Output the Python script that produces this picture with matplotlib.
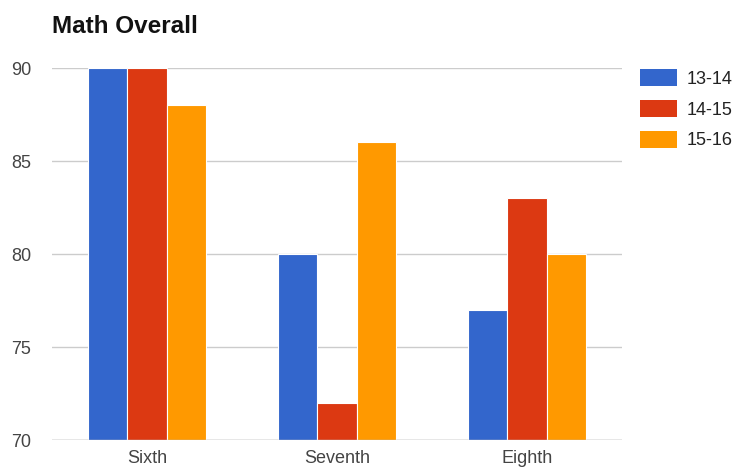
import matplotlib.pyplot as plt
import numpy as np
from matplotlib.patches import Patch

plt.rcParams['font.family'] = ['Liberation Sans', 'DejaVu Sans']

grades = ['Sixth', 'Seventh', 'Eighth']
years = ['13-14', '14-15', '15-16']
scores_1314 = [90, 80, 77]
scores_1415 = [90, 72, 83]
scores_1516 = [88, 86, 80]
colors = ['#3366CC', '#DC3912', '#FF9900']

fig = plt.figure(figsize=(7.35, 4.71), dpi=100)
ax = fig.add_axes([0.0707, 0.0658, 0.7755, 0.7898])

x = np.arange(len(grades))
w = 0.62 / 3
for i, vals in enumerate([scores_1314, scores_1415, scores_1516]):
    ax.bar(x + (i - 1) * w, np.array(vals) - 70, width=w, bottom=70,
           color=colors[i], edgecolor='white', linewidth=0.8, zorder=3)

ax.set_xlim(-0.5, 2.5)
ax.set_ylim(70, 90)
ax.set_yticks([70, 75, 80, 85, 90])
ax.set_xticks(x)
ax.set_xticklabels(grades)
ax.grid(axis='y', color='#cccccc', linewidth=1, zorder=0)
ax.axhline(70, color='#b0b0b0', linewidth=1, zorder=4)
for s in ax.spines.values():
    s.set_visible(False)
ax.tick_params(axis='both', length=0, labelsize=13, colors='#444444')
ax.tick_params(axis='y', pad=15)
ax.tick_params(axis='x', pad=7)

fig.text(0.0707, 0.943, 'Math Overall', fontsize=17.5, fontweight='bold', color='#111111',
         va='center', ha='left')

handles = [Patch(facecolor=c, edgecolor='none') for c in colors]
fig.legend(handles, years, loc='upper left', bbox_to_anchor=(0.8707, 0.853),
           frameon=False, fontsize=13, handlelength=2.05, handleheight=1.05,
           labelspacing=0.68, handletextpad=0.55, borderpad=0, borderaxespad=0,
           labelcolor='#222222')

fig.savefig('out.png', dpi=100)
